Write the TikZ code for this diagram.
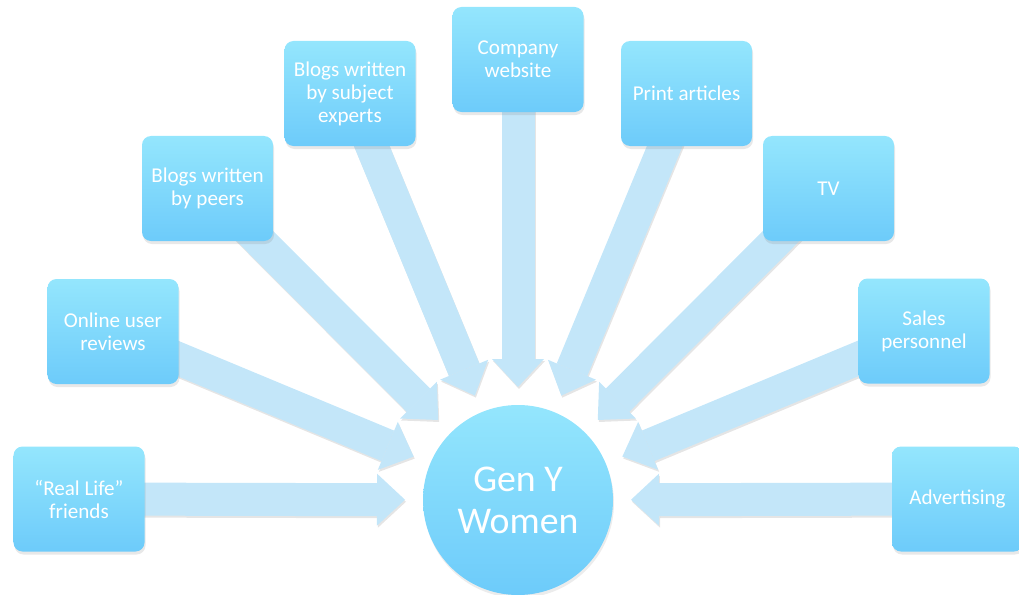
\documentclass[tikz,border=0pt]{standalone}
\usepackage{fontspec}
\setmainfont{Carlito}
\usetikzlibrary{arrows.meta, calc, shadows}

\definecolor{boxtop}{HTML}{94E6FD}
\definecolor{boxbottom}{HTML}{6DCBFA}
\definecolor{feedblue}{HTML}{C3E6F9}

\pgfdeclarelayer{background}
\pgfsetlayers{background,main}

\tikzset{
  source/.style={rectangle, rounded corners=1.8mm, minimum width=26.2mm,
    minimum height=21mm, inner sep=0pt, top color=boxtop, bottom color=boxbottom,
    text=white, align=center, font=\fontsize{12pt}{13.1pt}\selectfont,
    drop shadow={opacity=0.18, shadow xshift=0.2mm, shadow yshift=-0.6mm}},
  target/.style={circle, minimum size=38mm, inner sep=0pt, top color=boxtop,
    bottom color=boxbottom, text=white, align=center,
    font=\fontsize{21.5pt}{24pt}\selectfont,
    drop shadow={opacity=0.15, shadow xshift=0.2mm, shadow yshift=-0.6mm}},
  feed/.style={line width=6.6mm, draw=feedblue,
    -{Triangle[length=5.6mm, width=10.4mm, line width=0pt]}},
  feedshadow/.style={feed, draw=black, opacity=0.1,
    transform canvas={xshift=0.2mm, yshift=-0.4mm}}
}

\begin{document}
\begin{tikzpicture}[x=0.2mm, y=-0.2mm]
  \useasboundingbox (0,0) rectangle (1019,594);

  % Centre
  \node[target] (genY) at (518,500) {Gen Y\\Women};

  % Sources, left to right
  \node[source] (friends) at (79,499) {“Real Life”\\friends};
  \node[source] (reviews) at (113,331.5) {Online user\\reviews};
  \node[source] (peers) at (207.5,188.5) {Blogs written\\by peers};
  \node[source] (experts) at (350,93.5) {Blogs written\\by subject\\experts};
  \node[source] (website) at (518,59.5) {Company\\website};
  \node[source] (print) at (686.5,93.5) {Print articles};
  \node[source] (tv) at (828.5,188.5) {TV};
  \node[source] (sales) at (924,331) {Sales\\personnel};
  \node[source] (ads) at (957.5,499) {Advertising};

  % Arrows
  \begin{pgfonlayer}{background}
    \foreach \src in {friends, reviews, peers, experts, website, print, tv, sales, ads} {
      \draw[feedshadow] (\src.center) -- ($(genY)!22.6mm!(\src)$);
      \draw[feed] (\src.center) -- ($(genY)!22.6mm!(\src)$);
    }
  \end{pgfonlayer}

\end{tikzpicture}
\end{document}
